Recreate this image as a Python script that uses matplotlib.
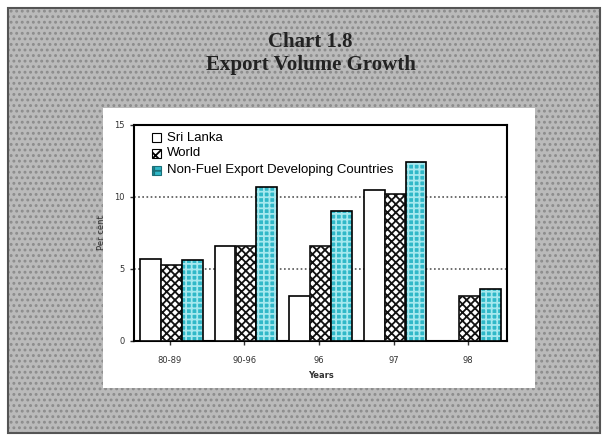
import numpy as np
import matplotlib
matplotlib.use("Agg")
from matplotlib import pyplot as plt
from matplotlib.patches import Rectangle

# Data
years = ['80-89', '90-96', '96', '97', '98']
sri_lanka = [5.7, 6.6, 3.1, 10.5, np.nan]
world = [5.3, 6.6, 6.6, 10.2, 3.1]
non_fuel = [5.6, 10.7, 9.0, 12.4, 3.6]

plt.rcParams['hatch.linewidth'] = 1.3

W, H = 608, 441
fig = plt.figure(figsize=(W / 100, H / 100), dpi=100)
fig.patch.set_facecolor('white')

# stippled grey page + white panel (behind the axes)
page = Rectangle((8 / W, 8 / H), 592 / W, 425 / H, transform=fig.transFigure,
                 facecolor='#bababa', edgecolor='#8c8c8c', hatch='...', lw=0, zorder=-3)
fig.patches.append(page)
frame = Rectangle((8 / W, 8 / H), 592 / W, 425 / H, transform=fig.transFigure,
                  fill=False, edgecolor='#555555', lw=1.5, zorder=-2)
fig.patches.append(frame)
panel = Rectangle((103 / W, 1 - 388 / H), 432 / W, 280 / H, transform=fig.transFigure,
                  facecolor='white', edgecolor='none', zorder=-1)
fig.patches.append(panel)

fig.text(310 / W, 1 - 42 / H, 'Chart 1.8', ha='center', va='center',
         family='Liberation Serif', weight='bold', fontsize=15, color='#222222')
fig.text(311 / W, 1 - 65 / H, 'Export Volume Growth', ha='center', va='center',
         family='Liberation Serif', weight='bold', fontsize=15, color='#222222')

ax = fig.add_axes([134 / W, 1 - 341 / H, 373 / W, 216 / H])
ax.set_facecolor('white')

x = np.arange(len(years)) + 0.02
bw = 0.278
off = 0.28

ax.bar(x - off, sri_lanka, bw, facecolor='white', edgecolor='black', lw=1.2, zorder=3)
ax.bar(x, world, bw, facecolor='white', edgecolor='#111111', hatch='xxxx', lw=1.2, zorder=3)
ax.bar(x + off, non_fuel, bw, facecolor='#30b8c8', edgecolor='#a6e8ee', hatch='+++', lw=0, zorder=3)
ax.bar(x + off, non_fuel, bw, fill=False, edgecolor='black', lw=1.2, zorder=4)

ax.set_xlim(-0.48, 4.52)
ax.set_ylim(0, 15)
ax.set_yticks([0, 5, 10, 15])
ax.set_xticks(np.arange(len(years)))
ax.set_xticklabels(years)
for y in [5, 10]:
    ax.axhline(y, color='#555555', ls=(0, (1, 1.5)), lw=1.2, zorder=1)

ax.tick_params(labelsize=6, length=3, width=1, colors='#333333')
ax.tick_params(axis='x', pad=8)
ax.set_xlabel('Years', fontsize=6, weight='bold', color='#333333', labelpad=4)
ax.set_ylabel('Per cent', fontsize=6, color='#333333', labelpad=6)
for s in ax.spines.values():
    s.set_linewidth(1.5)

# legend
lx, ly = 0.048, [0.94, 0.87, 0.79]
labels = ['Sri Lanka', 'World', 'Non-Fuel Export Developing Countries']
sq_w, sq_h = 0.025, 0.042
ax.add_patch(Rectangle((lx, ly[0] - sq_h / 2), sq_w, sq_h, transform=ax.transAxes,
                       facecolor='white', edgecolor='black', lw=0.8, zorder=5))
ax.add_patch(Rectangle((lx, ly[1] - sq_h / 2), sq_w, sq_h, transform=ax.transAxes,
                       facecolor='white', edgecolor='black', hatch='xxx', lw=0.8, zorder=5))
ax.add_patch(Rectangle((lx, ly[2] - sq_h / 2), sq_w, sq_h, transform=ax.transAxes,
                       facecolor='#30b8c8', edgecolor='#1a6f78', hatch='++', lw=0.8, zorder=5))
for yy, lab in zip(ly, labels):
    ax.text(lx + 0.04, yy, lab, transform=ax.transAxes, va='center', ha='left',
            fontsize=9.5, family='Liberation Sans', zorder=5)

fig.savefig('out.png', dpi=100)
